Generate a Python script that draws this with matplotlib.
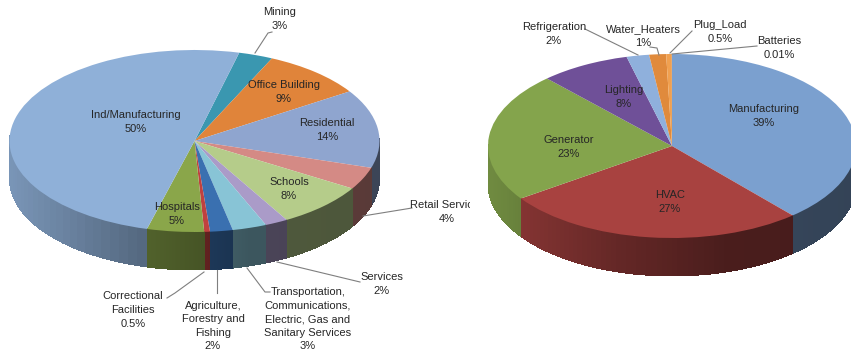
import matplotlib
matplotlib.use('Agg')
import matplotlib.pyplot as plt
import numpy as np

plt.rcParams['font.family'] = ['Liberation Sans', 'DejaVu Sans']

W, H = 851, 358

# Left chart
left_names = ['Mining', 'Office Building', 'Residential', 'Retail Services', 'Schools', 'Services',
              'Transportation,\nCommunications,\nElectric, Gas and\nSanitary Services',
              'Agriculture,\nForestry and\nFishing', 'Correctional\nFacilities', 'Hospitals', 'Ind/Manufacturing']
left_values = [3, 9, 14, 4, 8, 2, 3, 2, 0.5, 5, 50]
left_pct = ['3%', '9%', '14%', '4%', '8%', '2%', '3%', '2%', '0.5%', '5%', '50%']
left_colors = ['#3a97b0', '#e0843a', '#8fa5cf', '#d48a85', '#b5cc8a', '#aa9bc8',
               '#88c4d6', '#3a70b0', '#c0413f', '#8aa64a', '#8fb0d8']

# Right chart (Water_Heaters is labelled 1% but is drawn wider than that)
right_names = ['Manufacturing', 'HVAC', 'Generator', 'Lighting', 'Refrigeration',
               'Water_Heaters', 'Plug_Load', 'Batteries']
right_values = [39, 27, 23, 8, 2, 1.5, 0.5, 0.01]
right_pct = ['39%', '27%', '23%', '8%', '2%', '1%', '0.5%', '0.01%']
right_colors = ['#7ba0cf', '#a84240', '#84a44c', '#6f5098', '#8fb0dc', '#e08a3c', '#f0a050', '#8fb0dc']

# Label centres and leader lines, in picture pixels
left_pos = [(280, 19), (284, 92), (327, 130), (447, 212), (289, 189), (382, 284),
            (308, 319), (213, 326), (133, 310), (177, 214), (136, 122)]
left_leaders = [[(255, 53), (268, 33), (272, 32)],
                [(363, 216), (412, 208)],
                [(277, 262), (360, 282)],
                [(247, 268), (265, 292), (270, 292)],
                [(217, 270), (217, 293)],
                [(204, 272), (175, 293), (167, 298)]]
right_pos = [(764, 116), (670, 202), (569, 147), (624, 97), (554, 34), (643, 36), (720, 32), (779, 48)]
right_leaders = [[(585, 29), (638, 55)],
                 [(650, 47), (657, 48), (659, 55)],
                 [(692, 31), (670, 53)],
                 [(757, 46), (672, 54)]]


def shade(x):
    # side wall gets darker from left to right
    return np.interp(x, [-1, -0.3, 0.3, 1], [0.85, 0.6, 0.44, 0.42])


def draw_wall(ax, wedge, depth):
    t = np.radians(np.linspace(wedge.theta1, wedge.theta2, 60))
    base = np.array(wedge.get_facecolor()[:3])
    for a, b in zip(t[:-1], t[1:]):
        if np.sin(a) > 0.02 and np.sin(b) > 0.02:
            continue
        xs = [np.cos(a), np.cos(b), np.cos(b), np.cos(a)]
        ys = [np.sin(a), np.sin(b), np.sin(b) - depth, np.sin(a) - depth]
        c = base * shade((xs[0] + xs[1]) / 2)
        ax.fill(xs, ys, color=c, lw=0, antialiased=False, zorder=1)


def draw_pie(x0, x1, cx, cy, rx, ry, depth_px, values, colors, start, names, pct, pos, leaders):
    ax = plt.gcf().add_axes([x0 / W, 0, (x1 - x0) / W, 1])
    wedges, _ = ax.pie(values, colors=colors, startangle=start, counterclock=False,
                       wedgeprops={'linewidth': 0})
    for w in wedges:
        w.set_zorder(2)
        draw_wall(ax, w, depth_px / ry)
    ax.set_aspect('auto')
    ax.set_xlim((x0 - cx) / rx, (x1 - cx) / rx)
    ax.set_ylim((cy - H) / ry, cy / ry)

    def to_data(p):
        return (p[0] - cx) / rx, (cy - p[1]) / ry

    for line in leaders:
        pts = np.array([to_data(p) for p in line])
        ax.plot(pts[:, 0], pts[:, 1], color='#7f7f7f', lw=0.8, zorder=3)
    for n, v, p in zip(names, pct, pos):
        x, y = to_data(p)
        ax.text(x, y, n + '\n' + v, ha='center', va='center', fontsize=8.0, color='#262626',
                linespacing=1.45, zorder=4, clip_on=True)
    return ax


fig = plt.figure(figsize=(W / 100, H / 100), dpi=100)
draw_pie(0, 470, 194.5, 141, 185, 91, 38, left_values, left_colors, 76,
         left_names, left_pct, left_pos, left_leaders)
draw_pie(470, 851, 672, 146, 184, 92, 38, right_values, right_colors, 90,
         right_names, right_pct, right_pos, right_leaders)
fig.savefig('out.png', dpi=100)
